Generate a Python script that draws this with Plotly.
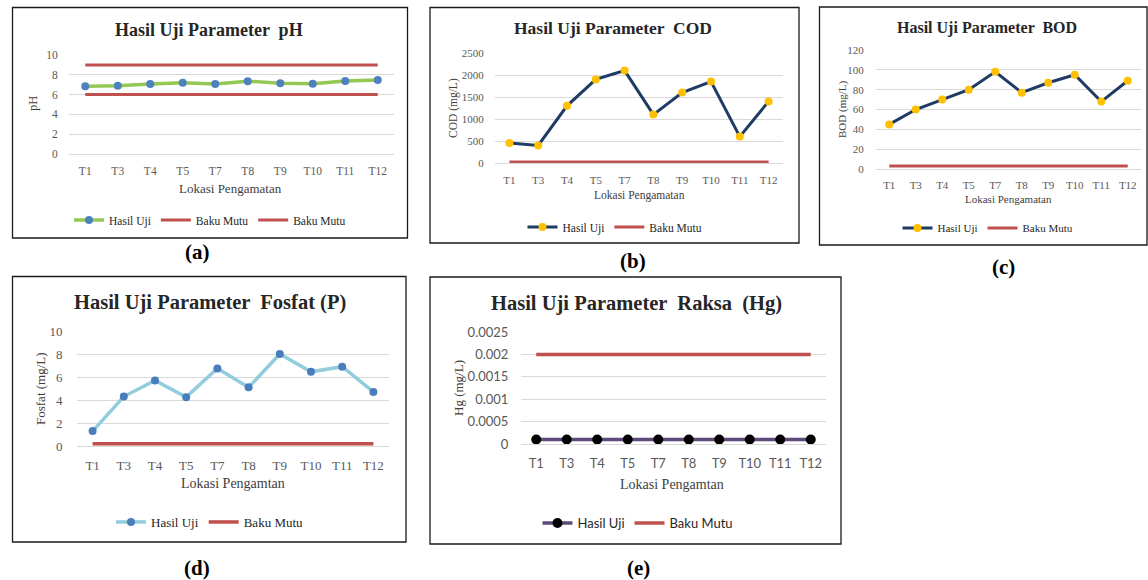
import plotly.graph_objects as go

W, H = 1148, 580

# ---------------- data ----------------
lokasi = ["T1", "T3", "T4", "T5", "T7", "T8", "T9", "T10", "T11", "T12"]

ph_hasil = [6.85, 6.9, 7.08, 7.2, 7.08, 7.35, 7.15, 7.1, 7.38, 7.48]
ph_bm_atas = [9, 9, 9, 9, 9, 9, 9, 9, 9, 9]
ph_bm_bawah = [6, 6, 6, 6, 6, 6, 6, 6, 6, 6]

cod_hasil = [455, 400, 1300, 1900, 2100, 1100, 1600, 1850, 600, 1400]
cod_bm = [25, 25, 25, 25, 25, 25, 25, 25, 25, 25]

bod_hasil = [45, 60, 70, 80, 98, 77, 87, 95, 68, 89]
bod_bm = [3, 3, 3, 3, 3, 3, 3, 3, 3, 3]

fosfat_hasil = [1.3, 4.3, 5.7, 4.25, 6.75, 5.1, 8.0, 6.45, 6.9, 4.7]
fosfat_bm = [0.2, 0.2, 0.2, 0.2, 0.2, 0.2, 0.2, 0.2, 0.2, 0.2]

hg_hasil = [0.0001, 0.0001, 0.0001, 0.0001, 0.0001, 0.0001, 0.0001, 0.0001, 0.0001, 0.0001]
hg_bm = [0.002, 0.002, 0.002, 0.002, 0.002, 0.002, 0.002, 0.002, 0.002, 0.002]

hg_ticks = [0, 0.0005, 0.001, 0.0015, 0.002, 0.0025]
hg_ticktext = ["0", "0.0005", "0.001", "0.0015", "0.002", "0.0025"]

# ---------------- helpers ----------------
def fx(px):
    return px / W

def fy(py):
    return 1 - py / H

SERIF = "Liberation Serif"
SANS = "Lato"
RED = "#C0504D"
GRID = "#D9D9D9"
TICK = "#595959"

fig = go.Figure()

panels = [
    dict(k="", box=(69, 394, 55, 154), yr=[0, 10], dt=2, tf=SERIF, ts=11.5, tl=8, xl=6),
    dict(k="2", box=(495, 783, 53, 163), yr=[0, 2500], dt=500, tf=SERIF, ts=11, tl=8, xl=7),
    dict(k="3", box=(876, 1141, 50, 169), yr=[0, 120], dt=20, tf=SERIF, ts=11, tl=9, xl=6),
    dict(k="4", box=(77, 389, 331, 446), yr=[0, 10], dt=2, tf=SERIF, ts=13, tl=11, xl=7),
    dict(k="5", box=(521, 826, 332, 444), yr=[0, 0.0025], dt=0.0005, tf=SANS, ts=13, tl=9, xl=7),
]

layout = {}
for p in panels:
    x0, x1, yt, yb = p["box"]
    xa = dict(
        domain=[fx(x0), fx(x1)], anchor="y" + p["k"], type="category",
        range=[-0.5, 9.5], showgrid=False, zeroline=False, showline=False,
        ticks="outside", ticklen=p["xl"], tickcolor="rgba(0,0,0,0)",
        tickfont=dict(family=p["tf"], size=p["ts"], color=TICK),
        fixedrange=True, automargin=False,
    )
    ya = dict(
        domain=[fy(yb), fy(yt)], anchor="x" + p["k"], range=p["yr"],
        dtick=p["dt"], tick0=0, showgrid=True, gridcolor=GRID, gridwidth=1,
        zeroline=True, zerolinecolor=GRID, zerolinewidth=1, showline=False,
        ticks="outside", ticklen=p["tl"], tickcolor="rgba(0,0,0,0)",
        tickfont=dict(family=p["tf"], size=p["ts"], color=TICK),
        fixedrange=True, automargin=False,
    )
    if p["k"] == "5":
        ya["tickvals"] = hg_ticks
        ya["ticktext"] = hg_ticktext
        ya.pop("dtick")
    layout["xaxis" + p["k"]] = xa
    layout["yaxis" + p["k"]] = ya

def add(y, k, name, color, width, legend, marker=None):
    tr = dict(
        x=lokasi, y=y, name=name, xaxis="x" + k, yaxis="y" + k,
        line=dict(color=color, width=width), legend=legend,
        hoverinfo="skip",
    )
    if marker:
        tr["mode"] = "lines+markers"
        tr["marker"] = marker
    else:
        tr["mode"] = "lines"
    fig.add_trace(go.Scatter(**tr))

# (a) pH
add(ph_bm_atas, "", "Baku Mutu", RED, 3, "legend")
add(ph_bm_bawah, "", "Baku Mutu", RED, 3, "legend")
add(ph_hasil, "", "Hasil Uji", "#92C853", 3.5, "legend",
    marker=dict(color="#4F81BD", size=8))
# (b) COD
add(cod_bm, "2", "Baku Mutu", RED, 3, "legend2")
add(cod_hasil, "2", "Hasil Uji", "#1F3A63", 3, "legend2",
    marker=dict(color="#FFC000", size=8))
# (c) BOD
add(bod_bm, "3", "Baku Mutu", RED, 3, "legend3")
add(bod_hasil, "3", "Hasil Uji", "#1F3A63", 3, "legend3",
    marker=dict(color="#FFC000", size=8))
# (d) Fosfat
add(fosfat_bm, "4", "Baku Mutu", RED, 3.5, "legend4")
add(fosfat_hasil, "4", "Hasil Uji", "#93CDDD", 3.5, "legend4",
    marker=dict(color="#4A7EBB", size=8))
# (e) Hg
add(hg_bm, "5", "Baku Mutu", RED, 3.5, "legend5")
add(hg_hasil, "5", "Hasil Uji", "#5F497A", 3.5, "legend5",
    marker=dict(color="#000000", size=10))

def leg(cx, cy, family, size):
    return dict(
        x=fx(cx), y=fy(cy), xanchor="center", yanchor="middle",
        orientation="h", font=dict(family=family, size=size, color="#262626"),
        bgcolor="rgba(0,0,0,0)", itemwidth=30, traceorder="reversed",
        itemclick=False, itemdoubleclick=False,
    )

layout["legend"] = leg(210, 220, SERIF, 11.5)
layout["legend2"] = leg(615, 227, SERIF, 11.5)
layout["legend3"] = leg(988, 228, SERIF, 11)
layout["legend4"] = leg(210, 522, SERIF, 13)
layout["legend5"] = leg(638, 523, SANS, 13)

# panel frames
frames = [
    (12.5, 407.5, 7.5, 238),
    (430, 799, 7.5, 243),
    (819.5, 1147, 7, 245),
    (12.5, 406, 276.5, 542),
    (430, 841, 277, 544),
]
shapes = []
for (x0, x1, y0, y1) in frames:
    shapes.append(dict(type="rect", xref="paper", yref="paper",
                       x0=fx(x0), x1=fx(x1), y0=fy(y1), y1=fy(y0),
                       line=dict(color="#1a1a1a", width=1.3), layer="below"))

annots = []
def txt(s, cx, cy, family, size, bold=False, angle=0, color="#262626"):
    annots.append(dict(
        text=("<b>%s</b>" % s) if bold else s, x=fx(cx), y=fy(cy),
        xref="paper", yref="paper", xanchor="center", yanchor="middle",
        showarrow=False, textangle=angle,
        font=dict(family=family, size=size, color=color),
    ))

# titles
txt("Hasil Uji Parameter  pH", 209, 30, SERIF, 18, bold=True)
txt("Hasil Uji Parameter  COD", 613, 28, SERIF, 17.5, bold=True)
txt("Hasil Uji Parameter  BOD", 987, 28, SERIF, 16, bold=True)
txt("Hasil Uji Parameter  Fosfat (P)", 210, 302, SERIF, 20.5, bold=True)
txt("Hasil Uji Parameter  Raksa  (Hg)", 636, 303, SERIF, 20.5, bold=True)

# axis titles
txt("pH", 33, 104, SERIF, 12.5, angle=-90, color="#404040")
txt("COD (mg/L)", 453, 108, SERIF, 11.5, angle=-90, color="#404040")
txt("BOD (mg/L)", 842, 110, SERIF, 11, angle=-90, color="#404040")
txt("Fosfat (mg/L)", 40, 389, SERIF, 13, angle=-90, color="#404040")
txt("Hg (mg/L)", 458, 388, SERIF, 13, angle=-90, color="#404040")

txt("Lokasi Pengamatan", 230, 188, SERIF, 13, color="#404040")
txt("Lokasi Pengamatan", 639, 195, SERIF, 11.5, color="#404040")
txt("Lokasi Pengamatan", 1008, 199, SERIF, 11, color="#404040")
txt("Lokasi Pengamtan", 233, 483, SERIF, 14, color="#404040")
txt("Lokasi Pengamtan", 672, 485, SERIF, 14, color="#404040")

# captions
txt("(a)", 197, 252, SERIF, 21, bold=True, color="#000000")
txt("(b)", 633, 261, SERIF, 21, bold=True, color="#000000")
txt("(c)", 1003, 267, SERIF, 21, bold=True, color="#000000")
txt("(d)", 197, 568, SERIF, 21, bold=True, color="#000000")
txt("(e)", 638, 568, SERIF, 21, bold=True, color="#000000")

layout.update(dict(
    width=W, height=H,
    margin=dict(l=0, r=0, t=0, b=0, pad=0, autoexpand=False),
    paper_bgcolor="white", plot_bgcolor="white",
    shapes=shapes, annotations=annots, hovermode=False,
))
fig.update_layout(**layout)

pin = ("document.body.style.margin='0';"
       "var d=document.getElementById('{plot_id}');"
       "d.style.position='absolute';d.style.left='0px';d.style.top='0px';")
fig.write_html("out.html", config={"displayModeBar": False}, post_script=pin)
